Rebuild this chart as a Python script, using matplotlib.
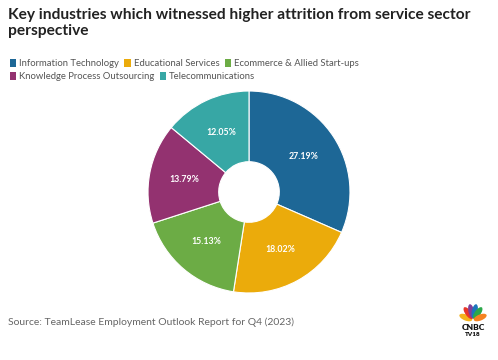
import matplotlib.pyplot as plt
from matplotlib.patches import Ellipse
import numpy as np

# data
industries = ['Information Technology', 'Educational Services', 'Ecommerce & Allied Start-ups',
              'Knowledge Process Outsourcing', 'Telecommunications']
attrition = [27.19, 18.02, 15.13, 13.79, 12.05]
colors = ['#1d6796', '#ebab0b', '#6cac45', '#933270', '#37a7a5']

plt.rcParams['font.family'] = ['Lato', 'DejaVu Sans']

fig = plt.figure(figsize=(4.98, 3.6), dpi=100)
fig.patch.set_facecolor('white')

# title
fig.text(8/498, 1 - 8/360, 'Key industries which witnessed higher attrition from service sector\nperspective',
         fontsize=11.2, fontweight='bold', color='#222222', va='top', ha='left', linespacing=1.2)

# legend (two rows, drawn as two legends)
def make_handles(idx):
    return [plt.Rectangle((0, 0), 1, 1, facecolor=colors[i], edgecolor='none') for i in idx]

leg_kw = dict(loc='upper left', frameon=False, fontsize=6.8, handlelength=0.7, handleheight=0.95,
              handletextpad=0.3, columnspacing=0.55, borderpad=0, labelcolor='#555555')
leg1 = fig.legend(make_handles([0, 1, 2]), industries[:3], ncol=3,
                  bbox_to_anchor=(5/498, 1 - 54/360), **leg_kw)
leg2 = fig.legend(make_handles([3, 4]), industries[3:], ncol=2,
                  bbox_to_anchor=(5/498, 1 - 67/360), **leg_kw)

# donut
cx, cy, r = 249, 192, 102
ax = fig.add_axes([(cx - r)/498, (360 - cy - r)/360, 2*r/498, 2*r/360])
wedges, texts, autotexts = ax.pie(attrition, colors=colors, startangle=90, counterclock=False,
                                  autopct=lambda p: '', pctdistance=0.65,
                                  wedgeprops=dict(width=0.7, edgecolor='white', linewidth=0.8))
for at, v in zip(autotexts, attrition):
    at.set_text(f'{v:.2f}%')
    at.set_color('white')
    at.set_fontsize(6.3)
    at.set_fontweight('bold')
ax.set_xlim(-1.01, 1.01)
ax.set_ylim(-1.01, 1.01)
ax.set_aspect('equal')
ax.axis('off')

# source
fig.text(8/498, 1 - 322/360, 'Source: TeamLease Employment Outlook Report for Q4 (2023)',
         fontsize=7.5, color='#666666', va='center', ha='left')

# logo (rough peacock fan + text)
lax = fig.add_axes([456/498, 1 - 338/360, 34/498, 36/360])
lax.set_xlim(-1, 1)
lax.set_ylim(-1, 1)
lax.axis('off')
feather_cols = ['#f5b21b', '#e8362a', '#7f3f98', '#1c75bc', '#2ba84a', '#f58220']
angles = [160, 128, 103, 77, 52, 20]
for c, a in zip(feather_cols, angles):
    t = np.deg2rad(a)
    lax.add_patch(Ellipse((0.45*np.cos(t), -0.05 + 0.55*np.sin(t)), 0.34, 0.8, angle=a - 90,
                          facecolor=c, edgecolor='none'))
lax.text(0, -0.42, 'CNBC', ha='center', va='center', fontsize=6, fontweight='heavy', color='#111111')
lax.text(0, -0.8, 'TV18', ha='center', va='center', fontsize=4.5, fontweight='heavy', color='#111111')

fig.savefig('out.png', dpi=100, facecolor='white')
